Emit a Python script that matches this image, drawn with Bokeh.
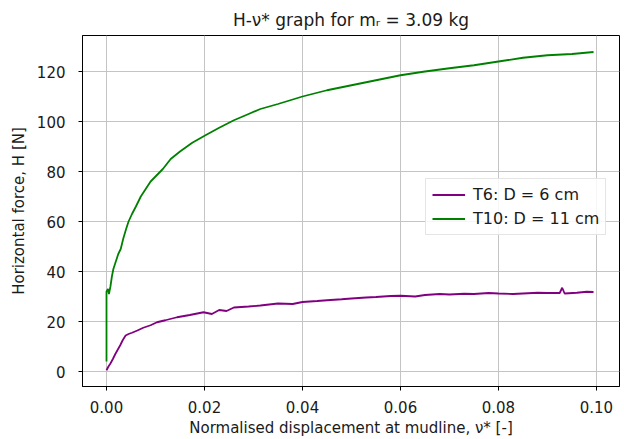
from bokeh.plotting import figure
from bokeh.models import (Range1d, FixedTicker, NumeralTickFormatter, Legend, LegendItem)
from bokeh.embed import file_html
from bokeh.resources import INLINE

# ---- data ----
t10_x = [0.0000, 0.0000, 0.0000, 0.0000, 0.0003, 0.0005, 0.0008, 0.0011, 0.0014, 0.0019,
         0.0024, 0.0029, 0.0034, 0.0040, 0.0045, 0.0052, 0.0060, 0.0070, 0.0080, 0.0090,
         0.0100, 0.0115, 0.0131, 0.0150, 0.0175, 0.0202, 0.0230, 0.0260, 0.0290, 0.0314,
         0.0350, 0.0400, 0.0450, 0.0500, 0.0550, 0.0600, 0.0650, 0.0700, 0.0750, 0.0800,
         0.0850, 0.0900, 0.0950, 0.0994]
t10_h = [4.0, 15.0, 25.0, 32.0, 33.0, 31.0, 34.0, 38.0, 41.0, 44.0,
         47.0, 49.0, 53.0, 57.0, 60.0, 63.0, 66.0, 70.0, 73.0, 76.0,
         78.0, 81.0, 85.0, 88.0, 91.5, 94.5, 97.5, 100.5, 103.0, 105.0,
         107.0, 110.0, 112.5, 114.5, 116.5, 118.5, 120.0, 121.3, 122.5, 124.0,
         125.5, 126.5, 127.0, 127.8]

t6_x = [0.0000, 0.0004, 0.0008, 0.0013, 0.0018, 0.0022, 0.0028, 0.0033, 0.0039, 0.0045,
        0.0052, 0.0063, 0.0075, 0.0090, 0.0103, 0.0120, 0.0144, 0.0170, 0.0198, 0.0215,
        0.0230, 0.0245, 0.0260, 0.0290, 0.0314, 0.0350, 0.0380, 0.0400, 0.0430, 0.0450,
        0.0480, 0.0500, 0.0530, 0.0550, 0.0580, 0.0600, 0.0630, 0.0650, 0.0680, 0.0700,
        0.0730, 0.0750, 0.0780, 0.0800, 0.0830, 0.0850, 0.0880, 0.0900, 0.0925, 0.0930,
        0.0935, 0.0960, 0.0980, 0.0994]
t6_h = [0.5, 2.0, 3.2, 5.0, 7.0, 8.4, 10.5, 12.5, 14.4, 15.0,
        15.5, 16.4, 17.5, 18.5, 19.7, 20.5, 21.7, 22.6, 23.7, 23.0,
        24.6, 24.2, 25.6, 26.0, 26.4, 27.2, 27.0, 27.8, 28.2, 28.5,
        28.9, 29.2, 29.6, 29.8, 30.2, 30.3, 30.0, 30.6, 31.0, 30.8,
        31.1, 31.0, 31.4, 31.2, 31.0, 31.2, 31.5, 31.4, 31.4, 33.5,
        31.2, 31.5, 31.9, 31.8]

x_ticks = [0.00, 0.02, 0.04, 0.06, 0.08, 0.10]
y_ticks = [0, 20, 40, 60, 80, 100, 120]

FONT = "DejaVu Sans"
TXT = "#1a1a1a"

p = figure(frame_width=537, frame_height=351,
           min_border_left=82, min_border_right=5, min_border_top=35, min_border_bottom=53,
           output_backend="svg", toolbar_location=None,
           x_range=Range1d(-0.0049, 0.1047), y_range=Range1d(-6.0, 134.4),
           title="H-ν* graph for mᵣ = 3.09 kg")

p.title.align = "center"
p.title.text_font = FONT
p.title.text_font_size = "17px"
p.title.text_font_style = "normal"
p.title.text_color = TXT
p.title.standoff = 12

p.outline_line_color = "black"
p.outline_line_width = 1
p.outline_line_alpha = 1.0
p.background_fill_color = "white"
p.border_fill_color = "white"

for ax in (p.xaxis[0], p.yaxis[0]):
    ax.axis_line_color = "black"
    ax.major_tick_line_color = "black"
    ax.major_tick_out = 4
    ax.major_tick_in = 0
    ax.minor_tick_line_color = None
    ax.major_label_text_font = FONT
    ax.major_label_text_font_size = "15px"
    ax.major_label_text_color = TXT
    ax.axis_label_text_font = FONT
    ax.axis_label_text_font_size = "15px"
    ax.axis_label_text_font_style = "normal"
    ax.axis_label_text_color = TXT

p.xaxis.ticker = FixedTicker(ticks=x_ticks)
p.xaxis.formatter = NumeralTickFormatter(format="0.00")
p.yaxis.ticker = FixedTicker(ticks=y_ticks)
p.xaxis.axis_label = "Normalised displacement at mudline, ν* [-]"
p.yaxis.axis_label = "Horizontal force, H [N]"
p.xaxis.major_label_standoff = 10
p.xaxis.axis_label_standoff = 3
p.yaxis.major_label_standoff = 13
p.yaxis.axis_label_standoff = 6

p.xgrid.grid_line_color = "#c4c4c4"
p.ygrid.grid_line_color = "#c4c4c4"
p.xgrid.grid_line_width = 1
p.ygrid.grid_line_width = 1

r6 = p.line(t6_x, t6_h, line_color="purple", line_width=1.8)
r10 = p.line(t10_x, t10_h, line_color="green", line_width=1.8)

legend = Legend(items=[LegendItem(label="T6: D = 6 cm", renderers=[r6]),
                       LegendItem(label="T10: D = 11 cm", renderers=[r10])],
                location=(343, 151), margin=0, padding=6, spacing=5,
                glyph_width=33, glyph_height=17, label_height=17, label_standoff=8,
                label_text_font=FONT, label_text_font_size="16px", label_text_color=TXT,
                border_line_color="#cccccc", border_line_width=1,
                background_fill_color="white", background_fill_alpha=0.85)
p.add_layout(legend, "center")

open("out.html", "w").write(file_html(p, INLINE))
